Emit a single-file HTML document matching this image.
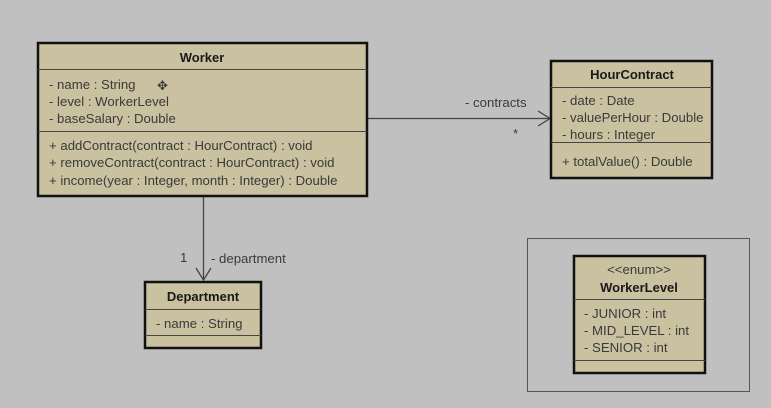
<!DOCTYPE html>
<html><head><meta charset="utf-8"><style>
html,body{margin:0;padding:0;background:#c0c0c0;}
svg{display:block;font-family:"Liberation Sans",Arial,sans-serif;}
text{font-size:13.2px;fill:#3a3a3a;}
.b{font-weight:bold;fill:#1a1a1a;font-size:13px;}
</style></head><body>
<svg width="771" height="408" xmlns="http://www.w3.org/2000/svg">
<rect width="771" height="408" fill="#c0c0c0"/>
<line x1="368" y1="118.5" x2="550" y2="118.5" stroke="#444" stroke-width="1.3"/>
<polyline points="538,111 550,118.5 538,126" fill="none" stroke="#444" stroke-width="1.3"/>
<text x="465" y="107">- contracts</text>
<text x="513" y="138">*</text>
<line x1="203.5" y1="197" x2="203.5" y2="280" stroke="#444" stroke-width="1.3"/>
<polyline points="196,268 203.5,280 211,268" fill="none" stroke="#444" stroke-width="1.3"/>
<text x="180" y="262">1</text>
<text x="211" y="263">- department</text>
<rect x="38" y="43" width="329" height="153" fill="#c9c19f" stroke="#111" stroke-width="2.5"/>
<line x1="38" y1="69.5" x2="367" y2="69.5" stroke="#444"/>
<line x1="38" y1="131.5" x2="367" y2="131.5" stroke="#444"/>
<text x="202" y="62" text-anchor="middle" class="b">Worker</text>
<text x="49" y="89">- name : String</text>
<text x="49" y="106">- level : WorkerLevel</text>
<text x="49" y="123">- baseSalary : Double</text>
<text x="49" y="150">+ addContract(contract : HourContract) : void</text>
<text x="49" y="167">+ removeContract(contract : HourContract) : void</text>
<text x="49" y="185">+ income(year : Integer, month : Integer) : Double</text>
<text x="157" y="90" style="font-size:13px">✥</text>
<rect x="551" y="61" width="161" height="117" fill="#c9c19f" stroke="#111" stroke-width="2.5"/>
<line x1="551" y1="87.5" x2="712" y2="87.5" stroke="#444"/>
<line x1="551" y1="142.5" x2="712" y2="142.5" stroke="#444"/>
<text x="632" y="79" text-anchor="middle" class="b">HourContract</text>
<text x="562" y="105">- date : Date</text>
<text x="562" y="122">- valuePerHour : Double</text>
<text x="562" y="139">- hours : Integer</text>
<text x="562" y="166">+ totalValue() : Double</text>
<rect x="145" y="282" width="116" height="66" fill="#c9c19f" stroke="#111" stroke-width="2.5"/>
<line x1="145" y1="309.5" x2="261" y2="309.5" stroke="#444"/>
<line x1="145" y1="335.5" x2="261" y2="335.5" stroke="#444"/>
<text x="203" y="301" text-anchor="middle" class="b">Department</text>
<text x="156" y="328">- name : String</text>
<rect x="527.5" y="238.5" width="222" height="153" fill="none" stroke="#555" stroke-width="1"/>
<rect x="574" y="256" width="131" height="117" fill="#c9c19f" stroke="#111" stroke-width="2.5"/>
<line x1="574" y1="299.5" x2="705" y2="299.5" stroke="#444"/>
<line x1="574" y1="360.5" x2="705" y2="360.5" stroke="#444"/>
<text x="639" y="274" text-anchor="middle">&lt;&lt;enum&gt;&gt;</text>
<text x="639" y="292" text-anchor="middle" class="b">WorkerLevel</text>
<text x="584" y="318">- JUNIOR : int</text>
<text x="584" y="335">- MID_LEVEL : int</text>
<text x="584" y="352">- SENIOR : int</text>
</svg>
</body></html>
